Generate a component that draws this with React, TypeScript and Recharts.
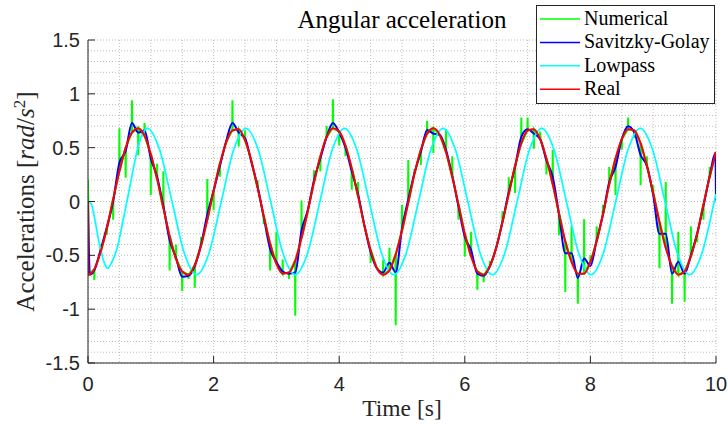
import React from 'react';
import { LineChart, Line, XAxis, YAxis, CartesianGrid } from 'recharts';

// sample instants [s] (the real signal starts at 0 and jumps to its minimum)
const time = [
  0, 0.005, 0.1, 0.2, 0.3, 0.4, 0.5, 0.6, 0.7, 0.8, 0.9,
  1, 1.1, 1.2, 1.3, 1.4, 1.5, 1.6, 1.7, 1.8, 1.9,
  2, 2.1, 2.2, 2.3, 2.4, 2.5, 2.6, 2.7, 2.8, 2.9,
  3, 3.1, 3.2, 3.3, 3.4, 3.5, 3.6, 3.7, 3.8, 3.9,
  4, 4.1, 4.2, 4.3, 4.4, 4.5, 4.6, 4.7, 4.8, 4.9,
  5, 5.1, 5.2, 5.3, 5.4, 5.5, 5.6, 5.7, 5.8, 5.9,
  6, 6.1, 6.2, 6.3, 6.4, 6.5, 6.6, 6.7, 6.8, 6.9,
  7, 7.1, 7.2, 7.3, 7.4, 7.5, 7.6, 7.7, 7.8, 7.9,
  8, 8.1, 8.2, 8.3, 8.4, 8.5, 8.6, 8.7, 8.8, 8.9,
  9, 9.1, 9.2, 9.3, 9.4, 9.5, 9.6, 9.7, 9.8, 9.9,
  10,
];

const real = [
  0, -0.68, -0.63, -0.47, -0.25, 0.02, 0.28, 0.5, 0.64, 0.68, 0.61,
  0.44, 0.21, -0.06, -0.32, -0.53, -0.65, -0.68, -0.59, -0.41, -0.17,
  0.1, 0.35, 0.55, 0.66, 0.67, 0.57, 0.38, 0.13, -0.14, -0.39,
  -0.58, -0.67, -0.66, -0.55, -0.34, -0.09, 0.18, 0.42, 0.6, 0.68,
  0.65, 0.52, 0.31, 0.05, -0.22, -0.45, -0.62, -0.68, -0.64, -0.49,
  -0.27, -0.01, 0.26, 0.48, 0.63, 0.68, 0.62, 0.46, 0.23, -0.03,
  -0.3, -0.51, -0.65, -0.68, -0.6, -0.43, -0.19, 0.07, 0.33, 0.54,
  0.66, 0.67, 0.58, 0.4, 0.16, -0.11, -0.37, -0.56, -0.67, -0.67,
  -0.56, -0.37, -0.12, 0.16, 0.4, 0.58, 0.67, 0.66, 0.54, 0.33,
  0.08, -0.19, -0.43, -0.6, -0.68, -0.65, -0.51, -0.3, -0.03, 0.23,
  0.46,
];

// numerical derivative at the same instants (outliers show up as spikes)
const numerical = [
  0.2, -0.68, -0.73, -0.4, -0.31, -0.17, 0.68, 0.22, 0.94, 0.43, 0.73,
  0.06, 0.35, 0.28, -0.64, -0.4, -0.83, -0.72, -0.8, -0.33, 0.21,
  -0.08, 0.23, 0.55, 0.94, 0.51, 0.66, 0.38, 0.2, -0.21, -0.64,
  -0.28, -0.54, -0.72, -1.06, 0.01, -0.09, 0.29, 0.28, 0.7, 0.95,
  0.52, 0.42, 0.11, 0.18, -0.22, -0.57, -0.62, -0.54, -0.43, -1.15,
  -0.03, 0.385, 0.3, 0.34, 0.75, 0.45, 0.62, 0.67, 0.42, -0.17,
  -0.51, -0.28, -0.82, -0.75, -0.55, -0.43, -0.09, 0.225, 0.08, 0.78,
  0.78, 0.49, 0.65, 0.25, 0.48, -0.31, -0.84, -0.23, -0.95, -0.165,
  -0.5, -0.23, -0.03, 0.32, 0.06, 0.48, 0.78, 0.59, 0.15, 0.42,
  0.15, -0.62, 0.18, -0.95, -0.28, -0.93, -0.23, -0.38, -0.17, 0.32,
  0.32,
];

const sgTime = [
  0, 0.03, 0.1, 0.2, 0.3, 0.4, 0.5, 0.6, 0.7, 0.8, 0.9,
  1, 1.1, 1.2, 1.3, 1.4, 1.5, 1.6, 1.7, 1.8, 1.9,
  2, 2.1, 2.2, 2.3, 2.4, 2.5, 2.6, 2.7, 2.8, 2.9,
  3, 3.1, 3.2, 3.3, 3.4, 3.5, 3.6, 3.7, 3.8, 3.9,
  4, 4.1, 4.2, 4.3, 4.4, 4.5, 4.6, 4.7, 4.8, 4.9,
  5, 5.1, 5.2, 5.3, 5.4, 5.5, 5.6, 5.7, 5.8, 5.9,
  6, 6.1, 6.2, 6.3, 6.4, 6.5, 6.6, 6.7, 6.8, 6.9,
  7, 7.1, 7.2, 7.3, 7.4, 7.5, 7.6, 7.7, 7.8, 7.9,
  8, 8.1, 8.2, 8.3, 8.4, 8.5, 8.6, 8.7, 8.8, 8.9,
  9, 9.1, 9.2, 9.3, 9.4, 9.5, 9.6, 9.7, 9.8, 9.9,
  9.99, 10,
];

const savgol = [
  0, -0.68, -0.64, -0.45, -0.24, 0, 0.36, 0.47, 0.73, 0.64, 0.66,
  0.4, 0.23, -0.04, -0.36, -0.52, -0.7, -0.69, -0.6, -0.4, -0.12,
  0.1, 0.33, 0.56, 0.73, 0.64, 0.59, 0.37, 0.14, -0.15, -0.44,
  -0.56, -0.65, -0.67, -0.66, -0.27, -0.08, 0.2, 0.4, 0.6, 0.73,
  0.64, 0.5, 0.28, 0.07, -0.22, -0.47, -0.62, -0.66, -0.57, -0.66,
  -0.25, 0.02, 0.27, 0.46, 0.665, 0.63, 0.62, 0.48, 0.24, -0.05,
  -0.33, -0.45, -0.67, -0.69, -0.6, -0.43, -0.19, 0.09, 0.32, 0.6,
  0.67, 0.63, 0.58, 0.38, 0.23, -0.12, -0.48, -0.48, -0.71, -0.53,
  -0.6, -0.36, -0.12, 0.18, 0.32, 0.58, 0.7, 0.64, 0.43, 0.33,
  0.06, -0.3, -0.3, -0.67, -0.56, -0.67, -0.5, -0.3, -0.04, 0.24,
  0.45, 0.01,
];

const lowpassTime = [
  0, 0.05, 0.1, 0.18, 0.26, 0.31, 0.39, 0.47, 0.55, 0.63, 0.71, 0.79, 0.87,
  0.945, 1.141, 1.338, 1.534, 1.73, 1.926, 2.123, 2.319,
  2.515, 2.711, 2.908, 3.104, 3.3, 3.496, 3.693, 3.889,
  4.085, 4.281, 4.478, 4.674, 4.87, 5.066, 5.263, 5.459,
  5.655, 5.851, 6.048, 6.244, 6.44, 6.636, 6.833, 7.029,
  7.225, 7.421, 7.618, 7.814, 8.01, 8.206, 8.403, 8.599,
  8.795, 8.991, 9.188, 9.384, 9.58, 9.776, 9.973, 10,
];

const lowpass = [
  0, -0.02, -0.14, -0.39, -0.57, -0.62, -0.55, -0.42, -0.2, 0.03, 0.27, 0.49, 0.63,
  0.68, 0.48, 0, -0.48, -0.68, -0.48, 0, 0.48,
  0.68, 0.48, 0, -0.48, -0.68, -0.48, 0, 0.48,
  0.68, 0.48, 0, -0.48, -0.68, -0.48, 0, 0.48,
  0.68, 0.48, 0, -0.48, -0.68, -0.48, 0, 0.48,
  0.68, 0.48, 0, -0.48, -0.68, -0.48, 0, 0.48,
  0.68, 0.48, 0, -0.48, -0.68, -0.48, 0, 0.07,
];

const xTicks = [0, 2, 4, 6, 8, 10];
const yTicks = [-1.5, -1, -0.5, 0, 0.5, 1, 1.5];

const series = [
  { name: 'Numerical', color: '#00ff00' },
  { name: 'Savitzky-Golay', color: '#0000ff' },
  { name: 'Lowpass', color: '#00ffff' },
  { name: 'Real', color: '#ff0000' },
];

// minor grid: every 0.5 s and every 0.1 rad/s^2
const gridX = Array.from({ length: 21 }, (_, i) => i * 0.5);
const gridY = Array.from({ length: 31 }, (_, i) => Math.round((-1.5 + i * 0.1) * 10) / 10);

const toRows = (ts: number[], vs: number[]) => ts.map((t, i) => ({ t, v: vs[i] }));

const realData = toRows(time, real);
const savgolData = toRows(sgTime, savgol);
const lowpassData = toRows(lowpassTime, lowpass);
// a spike goes out to the numerical value and straight back to the signal
const numericalData = time
  .flatMap((t, i) =>
    numerical[i] === real[i]
      ? [{ t, v: real[i] }]
      : [
          { t: t - 0.004, v: real[i] },
          { t, v: numerical[i] },
          { t: t + 0.004, v: real[i] },
        ]
  )
  .filter((p) => p.t >= 0);

const AXIS = '#262626';
const SERIF = '"Liberation Serif", "Times New Roman", serif';
const SANS = '"Liberation Sans", Arial, sans-serif';

const YLabel = () => (
  <text
    transform="translate(34, 201.5) rotate(-90)"
    textAnchor="middle"
    fontFamily={SERIF}
    fontSize={25}
    fill={AXIS}
  >
    Accelerations [<tspan fontStyle="italic">rad</tspan>/<tspan fontStyle="italic">s</tspan>
    <tspan dy={-9} fontSize={17}>2</tspan>
    <tspan dy={9}>]</tspan>
  </text>
);

const XLabel = () => (
  <text x={402} y={416} textAnchor="middle" fontFamily={SERIF} fontSize={23.5} fill={AXIS}>
    Time [s]
  </text>
);

export default function App() {
  return (
    <div style={{ position: 'absolute', left: 0, top: 0, width: 728, height: 425, background: '#fff' }}>
      <LineChart width={728} height={425} margin={{ top: 40, right: 12, bottom: 0, left: 0 }}>
        <CartesianGrid
          horizontalValues={gridY}
          verticalValues={gridX}
          stroke="#bdbdbd"
          strokeDasharray="1 2"
        />
        <XAxis
          type="number"
          dataKey="t"
          domain={[0, 10]}
          ticks={xTicks}
          interval={0}
          allowDataOverflow
          height={62}
          tickSize={-7}
          tickMargin={21}
          stroke={AXIS}
          tick={{ fill: AXIS, fontSize: 20, fontFamily: SANS }}
          label={{ content: () => <XLabel /> }}
        />
        <YAxis
          type="number"
          domain={[-1.5, 1.5]}
          ticks={yTicks}
          interval={0}
          allowDataOverflow
          width={88}
          tickSize={-7}
          tickMargin={15}
          stroke={AXIS}
          tick={{ fill: AXIS, fontSize: 20, fontFamily: SANS }}
          label={{ content: () => <YLabel /> }}
        />
        <Line data={numericalData} dataKey="v" name="Numerical" type="linear" stroke="#00ff00" strokeWidth={2} dot={false} isAnimationActive={false} />
        <Line data={savgolData} dataKey="v" name="Savitzky-Golay" type="monotone" stroke="#0000ff" strokeWidth={2} dot={false} isAnimationActive={false} />
        <Line data={lowpassData} dataKey="v" name="Lowpass" type="monotone" stroke="#00ffff" strokeWidth={1.7} dot={false} isAnimationActive={false} />
        <Line data={realData} dataKey="v" name="Real" type="monotone" stroke="#ff0000" strokeWidth={2} dot={false} isAnimationActive={false} />
      </LineChart>
      <svg width={728} height={425} style={{ position: 'absolute', left: 0, top: 0, pointerEvents: 'none' }}>
        <text x={402} y={28} textAnchor="middle" fontFamily={SERIF} fontSize={25} fill="#000">
          Angular acceleration
        </text>
        <rect x={536.5} y={5.5} width={178} height={98} fill="#fff" stroke={AXIS} strokeWidth={1} />
        {series.map((s, i) => (
          <g key={s.name}>
            <line x1={540} x2={580} y1={19 + i * 23.4} y2={19 + i * 23.4} stroke={s.color} strokeWidth={1.5} />
            <text x={584} y={25 + i * 23.4} fontFamily={SERIF} fontSize={20} fill="#000">
              {s.name}
            </text>
          </g>
        ))}
      </svg>
    </div>
  );
}
